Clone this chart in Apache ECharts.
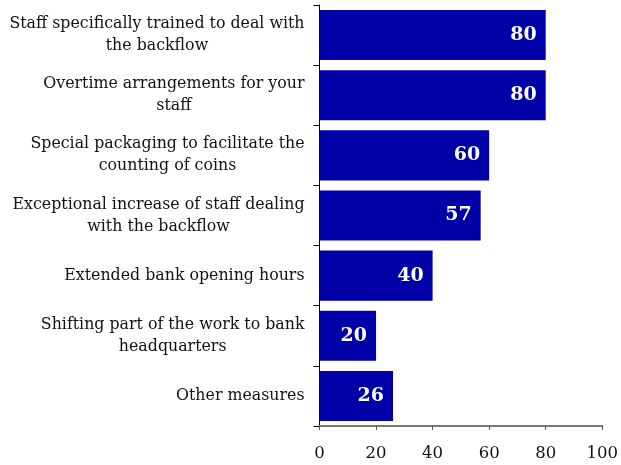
<!DOCTYPE html>
<html>
<head>
<meta charset="utf-8">
<style>
  html, body { margin: 0; padding: 0; background: #ffffff; }
  #chart { width: 621px; height: 465px; }
</style>
<script src="https://cdn.jsdelivr.net/npm/echarts@6/dist/echarts.min.js"></script>
</head>
<body>
<div id="chart"></div>
<script>
// Measures, listed top to bottom
const categories = [
  'Staff specifically trained to deal with\nthe backflow',
  'Overtime arrangements for your\nstaff',
  'Special packaging to facilitate the\ncounting of coins',
  'Exceptional increase of staff dealing\nwith the backflow',
  'Extended bank opening hours',
  'Shifting part of the work to bank\nheadquarters',
  'Other measures'
];
const values = [80, 80, 60, 57, 40, 20, 26];
const xTicks = [0, 20, 40, 60, 80, 100];

const FONT = 'DejaVu Serif';

// Category axis runs bottom-up, so reverse for top-to-bottom order
const yCats = categories.slice().reverse();
const yVals = values.slice().reverse();

const chart = echarts.init(document.getElementById('chart'));
chart.setOption({
  animation: false,
  backgroundColor: '#ffffff',
  grid: { left: 319.5, right: 17, top: 5, bottom: 39, containLabel: false },
  xAxis: {
    type: 'value',
    min: xTicks[0],
    max: xTicks[xTicks.length - 1],
    interval: 20,
    splitLine: { show: false },
    axisLine: { show: true, lineStyle: { color: '#777777', width: 2 } },
    axisTick: { show: true, length: 4, lineStyle: { color: '#555555', width: 1 } },
    axisLabel: { margin: 19, color: '#111111', fontFamily: FONT, fontSize: 16.5 }
  },
  yAxis: {
    type: 'category',
    data: yCats,
    axisLine: { show: true, onZero: false, lineStyle: { color: '#000000', width: 1 } },
    axisTick: { show: true, length: 6, lineStyle: { color: '#000000', width: 1 } },
    axisLabel: {
      margin: 15,
      align: 'right',
      formatter: function (v) {
        return v.split('\n').map(function (s) { return '{c|' + s + '}'; }).join('\n');
      },
      rich: {
        c: { align: 'center', fontFamily: FONT, fontSize: 15.8, color: '#111111', lineHeight: 22 }
      }
    }
  },
  series: [{
    type: 'bar',
    data: yVals,
    barCategoryGap: '16.7%',
    itemStyle: { color: '#0000A8' },
    label: {
      show: true,
      position: 'insideRight',
      distance: 9,
      color: '#ffffff',
      fontFamily: FONT,
      fontWeight: 'bold',
      fontSize: 19
    }
  }]
});
</script>
</body>
</html>
